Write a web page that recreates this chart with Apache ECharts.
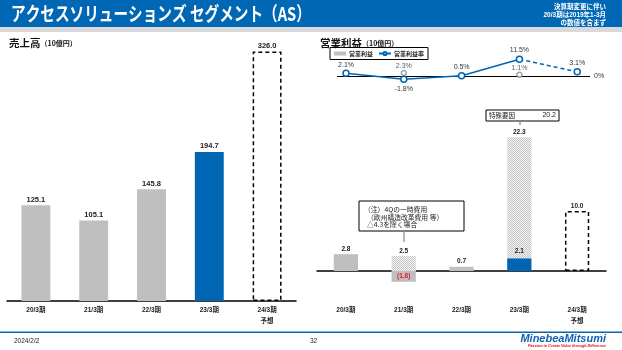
<!DOCTYPE html>
<html><head><meta charset="utf-8">
<script src="https://cdn.jsdelivr.net/npm/echarts@6/dist/echarts.min.js"></script>
<style>html,body{margin:0;padding:0;background:#fff}#c{width:622px;height:350px}</style>
</head><body><div id="c"></div>
<script>
// ---- data ----
const categories = ['20/3期', '21/3期', '22/3期', '23/3期', '24/3期\n予想'];
const salesActual = [125.1, 105.1, 145.8, 194.7, null];
const salesForecast = [null, null, null, null, 326.0];
const opProfit = [2.8, -1.8, 0.7, null, null];          // reported (gray)
const opProfitLatest = [null, null, null, 2.1, null];   // latest year (blue)
const opAdjustedPart = [null, 2.5, null, 20.2, null];   // hatched part
const opAdjustedTotal = [null, 2.5, null, 22.3, null];  // label on hatched part
const opForecast = [null, null, null, null, 10.0];
const opMargin = [2.1, -1.8, 0.5, 11.5, 3.1];
const opMarginAdjusted = [null, 2.3, null, 1.1, null];
const specialFactor = 20.2;
const oneTimeCost = 4.3;

// ---- style ----
const FONT = "'Liberation Sans','Noto Sans CJK JP',sans-serif";
const JP = "'Noto Sans CJK JP','Liberation Sans',sans-serif";
const BLUE = '#0066B3', GRAY = '#BFBFBF', HEAD = '#0067B4';
const pat = document.createElement('canvas'); pat.width = 2; pat.height = 2;
const pc = pat.getContext('2d');
pc.fillStyle = '#f4f4f4'; pc.fillRect(0, 0, 2, 2);
pc.fillStyle = '#c6c6c6'; pc.fillRect(0, 0, 1, 1); pc.fillRect(1, 1, 1, 1);
const HATCH = { image: pat, repeat: 'repeat' };
const dash = a => a.map(v => v == null ? '-' : v);
const latestIdx = salesActual.reduce((m, v, i) => v != null ? i : m, -1);

const lblBar = { show: true, position: 'top', distance: 2, fontSize: 7.5, fontWeight: 'bold', color: '#222', fontFamily: FONT };
const lblOp = { show: true, position: 'top', distance: 2, fontSize: 6.5, fontWeight: 'bold', color: '#222', fontFamily: FONT };
const lblLine = { show: true, position: 'top', distance: 1.5, fontSize: 7, color: '#333', fontFamily: FONT };
const catLabel = { fontSize: 6.5, fontWeight: 'bold', color: '#222', fontFamily: FONT, lineHeight: 10.5 };
const tickStyle = { color: '#000', width: 1.5 };

const marginSolid = opMargin.slice(0, 4).map((v, i) => v < 0 ? { value: [i, v], label: { position: 'bottom', distance: 2.5 } } : { value: [i, v] });
const marginDashed = [
  { value: [3, opMargin[3]], symbol: 'none', label: { show: false } },
  { value: [4, opMargin[4]] }
];
const marginAdj = opMarginAdjusted.map((v, i) => v == null ? null : [i, v]).filter(d => d);

const chart = echarts.init(document.getElementById('c'));
chart.setOption({
  animation: false,
  grid: [
    { left: 7, right: 326, top: 33, bottom: 49 },
    { left: 317, right: 16, top: 121, bottom: 49 },
    { left: 337, right: 32, top: 58.5, height: 24 }
  ],
  xAxis: [
    { gridIndex: 0, type: 'category', data: categories, axisLine: { lineStyle: tickStyle }, axisTick: { length: 3, lineStyle: tickStyle }, axisLabel: Object.assign({ margin: 4 }, catLabel) },
    { gridIndex: 0, type: 'category', data: categories, position: 'bottom', axisLine: { show: false }, axisTick: { inside: true, length: 3, lineStyle: tickStyle }, axisLabel: { show: false } },
    { gridIndex: 1, type: 'category', data: categories, axisLine: { onZero: true, onZeroAxisIndex: 1, lineStyle: tickStyle }, axisTick: { length: 3, lineStyle: tickStyle }, axisLabel: Object.assign({ margin: 4 }, catLabel) },
    { gridIndex: 1, type: 'category', data: categories, position: 'bottom', axisLine: { show: false, onZero: true, onZeroAxisIndex: 1 }, axisTick: { inside: true, length: 3, lineStyle: tickStyle }, axisLabel: { show: false } },
    { gridIndex: 2, type: 'value', min: -0.156, max: 4.221, show: false }
  ],
  yAxis: [
    { gridIndex: 0, type: 'value', min: 0, max: 350, show: false },
    { gridIndex: 1, type: 'value', min: -5, max: 25, show: false },
    { gridIndex: 2, type: 'value', min: -4, max: 12, show: false }
  ],
  legend: {
    left: 330, top: 47.5, data: [{ name: '営業利益', icon: 'rect' }, { name: '営業利益率' }],
    itemWidth: 12, itemHeight: 4, itemGap: 5, padding: [3, 4], borderColor: '#000', borderWidth: 1,
    selectedMode: false, textStyle: { fontSize: 6, fontWeight: 'bold', fontFamily: JP, color: '#222', padding: [0, 0, 0, -2] }
  },
  series: [
    { type: 'bar', name: '売上高', xAxisIndex: 0, yAxisIndex: 0, stack: 's', barWidth: '50%', data: dash(salesActual),
      itemStyle: { color: p => p.dataIndex === latestIdx ? BLUE : GRAY },
      label: Object.assign({ formatter: p => p.value.toFixed(1) }, lblBar) },
    { type: 'bar', name: '売上高予想', xAxisIndex: 0, yAxisIndex: 0, stack: 's', data: dash(salesForecast),
      itemStyle: { color: '#fff', borderColor: '#000', borderWidth: 1.5, borderType: [4, 3] },
      label: Object.assign({ formatter: p => p.value.toFixed(1) }, lblBar) },

    { type: 'bar', name: '営業利益', xAxisIndex: 2, yAxisIndex: 1, stack: 'op', barWidth: '42%',
      data: opProfit.map(v => v == null ? '-' : (v < 0 ? { value: v, label: { position: 'inside', color: '#E8202A' } } : v)),
      itemStyle: { color: GRAY },
      label: Object.assign({}, lblOp, { formatter: p => p.value < 0 ? '(' + Math.abs(p.value).toFixed(1) + ')' : p.value.toFixed(1) }) },
    { type: 'bar', name: '営業利益(当期)', xAxisIndex: 2, yAxisIndex: 1, stack: 'op', z: 3, data: dash(opProfitLatest),
      itemStyle: { color: BLUE }, label: Object.assign({}, lblOp, { distance: 4, formatter: p => p.value.toFixed(1) }) },
    { type: 'bar', name: '特殊要因除く', xAxisIndex: 2, yAxisIndex: 1, stack: 'op', data: dash(opAdjustedPart),
      itemStyle: { color: HATCH }, label: Object.assign({}, lblOp, { distance: 1.5, formatter: p => opAdjustedTotal[p.dataIndex].toFixed(1) }) },
    { type: 'bar', name: '営業利益予想', xAxisIndex: 2, yAxisIndex: 1, stack: 'op', data: dash(opForecast),
      itemStyle: { color: '#fff', borderColor: '#000', borderWidth: 1.5, borderType: [4, 3] },
      label: Object.assign({}, lblOp, { formatter: p => p.value.toFixed(1) }) },

    { type: 'line', name: '営業利益率', xAxisIndex: 4, yAxisIndex: 2, z: 4, data: marginSolid,
      lineStyle: { color: BLUE, width: 1.5 }, symbol: 'circle', symbolSize: 6,
      itemStyle: { color: '#fff', borderColor: BLUE, borderWidth: 1.5 },
      label: Object.assign({ formatter: p => p.value[1].toFixed(1) + '%' }, lblLine),
      markLine: { silent: true, symbol: 'none', z: 1, lineStyle: { color: '#000', width: 1.2, type: 'solid' },
        label: { position: 'end', distance: 4, formatter: '0%', fontSize: 7, color: '#333', fontFamily: FONT },
        data: [{ yAxis: 0 }] } },
    { type: 'line', name: '営業利益率予想', xAxisIndex: 4, yAxisIndex: 2, z: 2, data: marginDashed,
      lineStyle: { color: BLUE, width: 1.5, type: [4, 3] }, symbol: 'circle', symbolSize: 6,
      itemStyle: { color: '#fff', borderColor: BLUE, borderWidth: 1.5 },
      label: Object.assign({ formatter: p => p.value[1].toFixed(1) + '%' }, lblLine) },
    { type: 'scatter', name: '営業利益率(調整後)', xAxisIndex: 4, yAxisIndex: 2, z: 3, data: marginAdj,
      symbol: 'circle', symbolSize: 5, itemStyle: { color: '#fff', borderColor: '#8c8c8c', borderWidth: 1.5 },
      label: Object.assign({}, lblLine, { distance: 0.5, formatter: p => p.value[1].toFixed(1) + '%' }) }
  ],
  graphic: [
    { type: 'rect', silent: true, shape: { x: 0, y: 0, width: 622, height: 27 }, style: { fill: HEAD } },
    { type: 'rect', silent: true, shape: { x: 0, y: 27, width: 622, height: 5 }, style: { fill: '#D9D9D9' } },
    { type: 'text', silent: true, x: 11, y: 14, scaleX: 0.77, style: { text: 'アクセスソリューションズ セグメント（AS）', fill: '#fff', font: "bold 19px 'Noto Sans CJK JP'", verticalAlign: 'middle' } },
    { type: 'text', silent: true, x: 606, y: 7, style: { text: '決算期変更に伴い', fill: '#fff', font: "bold 6.5px " + JP, align: 'right', verticalAlign: 'middle' } },
    { type: 'text', silent: true, x: 606, y: 15, style: { text: '20/3期は2019年1-3月', fill: '#fff', font: "bold 6.5px " + FONT, align: 'right', verticalAlign: 'middle' } },
    { type: 'text', silent: true, x: 606, y: 23, style: { text: 'の数値を含まず', fill: '#fff', font: "bold 6.5px " + JP, align: 'right', verticalAlign: 'middle' } },

    { type: 'text', silent: true, x: 9, y: 43, style: { text: '{a|売上高}{b|（10億円）}', verticalAlign: 'middle', rich: { a: { fontSize: 10.5, fontWeight: 'bold', fontFamily: JP, fill: '#111' }, b: { fontSize: 7, fontWeight: 'bold', fontFamily: JP, fill: '#111' } } } },
    { type: 'text', silent: true, x: 320, y: 43, style: { text: '{a|営業利益}{b|（10億円）}', verticalAlign: 'middle', rich: { a: { fontSize: 10.5, fontWeight: 'bold', fontFamily: JP, fill: '#111' }, b: { fontSize: 7, fontWeight: 'bold', fontFamily: JP, fill: '#111' } } } },

    { type: 'rect', silent: true, shape: { x: 486, y: 110, width: 73, height: 11 }, style: { fill: '#fff', stroke: '#000', lineWidth: 1 } },
    { type: 'text', silent: true, x: 489, y: 115.5, style: { text: '特殊要因', fill: '#222', font: "6.5px " + JP, verticalAlign: 'middle' } },
    { type: 'text', silent: true, x: 556, y: 115.5, style: { text: specialFactor.toFixed(1), fill: '#222', font: "7px " + FONT, align: 'right', verticalAlign: 'middle' } },
    { type: 'line', silent: true, shape: { x1: 520, y1: 121.5, x2: 520, y2: 125 }, style: { stroke: '#888', lineWidth: 1.2 } },

    { type: 'rect', silent: true, shape: { x: 359, y: 201, width: 105, height: 30 }, style: { fill: '#fff', stroke: '#000', lineWidth: 1 } },
    { type: 'text', silent: true, x: 364, y: 209.5, style: { text: '（注）4Qの一時費用', fill: '#222', font: "6.8px " + JP, verticalAlign: 'middle' } },
    { type: 'text', silent: true, x: 367, y: 217, style: { text: '（欧州構造改革費用 等）', fill: '#222', font: "6.8px " + JP, verticalAlign: 'middle' } },
    { type: 'text', silent: true, x: 367, y: 224.5, style: { text: '△' + oneTimeCost.toFixed(1) + 'を除く場合', fill: '#222', font: "6.8px " + JP, verticalAlign: 'middle' } },
    { type: 'line', silent: true, shape: { x1: 404, y1: 231, x2: 404, y2: 242 }, style: { stroke: '#888', lineWidth: 1.2 } },

    { type: 'rect', silent: true, shape: { x: 0, y: 331.5, width: 622, height: 1.5 }, style: { fill: HEAD } },
    { type: 'text', silent: true, x: 14, y: 341, style: { text: '2024/2/2', fill: '#222', font: "6.5px " + FONT, verticalAlign: 'middle' } },
    { type: 'text', silent: true, x: 310, y: 341, style: { text: '32', fill: '#222', font: "6.5px " + FONT, verticalAlign: 'middle' } },
    { type: 'text', silent: true, x: 606, y: 338.5, style: { text: 'MinebeaMitsumi', fill: '#1560B0', font: "italic bold 11px 'Liberation Sans'", align: 'right', verticalAlign: 'middle' } },
    { type: 'text', silent: true, x: 606, y: 346, style: { text: 'Passion to Create Value through Difference', fill: '#E60012', font: "italic bold 3.8px 'Liberation Sans'", align: 'right', verticalAlign: 'middle' } }
  ]
});
</script>
</body></html>
